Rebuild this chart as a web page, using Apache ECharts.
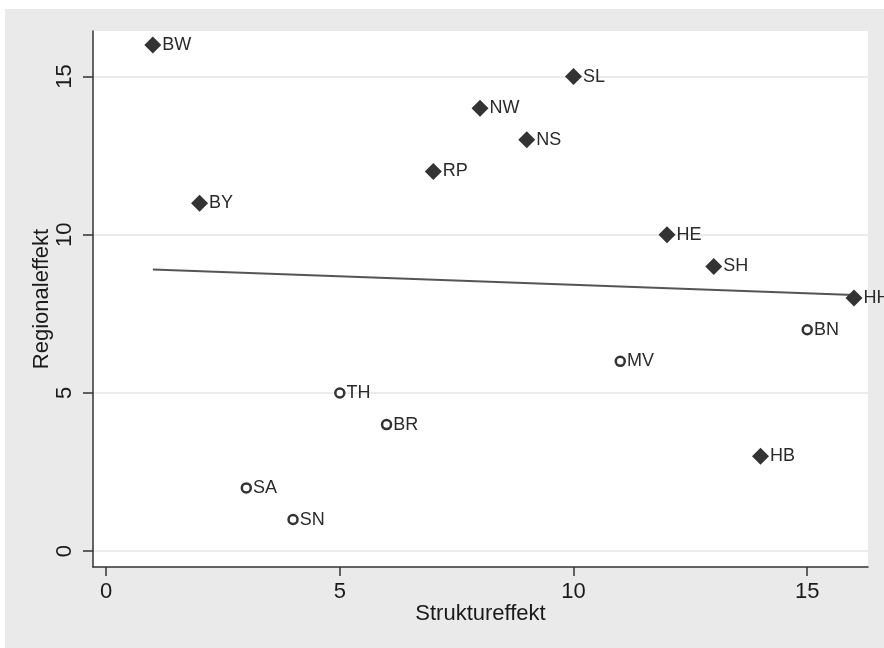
<!DOCTYPE html>
<html>
<head>
<meta charset="utf-8">
<script src="https://cdn.jsdelivr.net/npm/echarts@6/dist/echarts.min.js"></script>
<style>
  html, body { margin: 0; padding: 0; background: #fff; }
  #chart { position: absolute; left: 5px; top: 9px; width: 879px; height: 639px; background: #eaeaea; }
</style>
</head>
<body>
<div id="chart"></div>
<script>
// Westdeutsche Laender (Rauten)
var westNames = ['BW', 'SL', 'NW', 'NS', 'RP', 'BY', 'HE', 'SH', 'HH', 'HB'];
var westX = [1, 10, 8, 9, 7, 2, 12, 13, 16, 14];
var westY = [16, 15, 14, 13, 12, 11, 10, 9, 8, 3];

// Ostdeutsche Laender (Kreise)
var eastNames = ['BN', 'MV', 'TH', 'BR', 'SA', 'SN'];
var eastX = [15, 11, 5, 6, 3, 4];
var eastY = [7, 6, 5, 4, 2, 1];

// Regressionsgerade
var fitX = [1, 16];
var fitY = [8.9, 8.1];

var xTicks = [0, 5, 10, 15];
var yTicks = [0, 5, 10, 15];

function makePoints(names, xs, ys) {
  var out = [];
  for (var i = 0; i < names.length; i++) {
    out.push({ name: names[i], value: [xs[i], ys[i]] });
  }
  return out;
}

var fontFam = '"Liberation Sans", Arial, sans-serif';
var labelStyle = {
  show: true,
  position: 'right',
  distance: 1,
  formatter: '{b}',
  color: '#2a2a2a',
  fontSize: 18,
  fontFamily: fontFam
};

var chart = echarts.init(document.getElementById('chart'));

var option = {
  animation: false,
  textStyle: { fontFamily: fontFam },
  grid: {
    left: 88, top: 22, right: 16, bottom: 81,
    show: true, backgroundColor: '#fff', borderWidth: 0
  },
  xAxis: {
    type: 'value',
    min: -0.28, max: 16.3,
    name: 'Struktureffekt',
    nameLocation: 'middle',
    nameGap: 36,
    nameMoveOverlap: false,
    nameTextStyle: { color: '#1a1a1a', fontSize: 22 },
    axisLine: { show: true, onZero: false, lineStyle: { color: '#333', width: 1.5 } },
    axisTick: { show: true, length: 9, customValues: xTicks, lineStyle: { color: '#333', width: 1.5 } },
    axisLabel: { customValues: xTicks, color: '#1a1a1a', fontSize: 22, margin: 14 },
    splitLine: { show: false }
  },
  yAxis: {
    type: 'value',
    min: -0.5, max: 16.44,
    name: 'Regionaleffekt',
    nameLocation: 'middle',
    nameGap: 40,
    nameMoveOverlap: false,
    nameTextStyle: { color: '#1a1a1a', fontSize: 22 },
    axisLine: { show: true, onZero: false, lineStyle: { color: '#333', width: 1.5 } },
    axisTick: { show: true, length: 10, customValues: yTicks, lineStyle: { color: '#333', width: 1.5 } },
    axisLabel: { customValues: yTicks, color: '#1a1a1a', fontSize: 22, rotate: 90, margin: 17 },
    splitLine: { show: true, lineStyle: { color: '#e6e6e6', width: 1.5 } }
  },
  series: [
    {
      type: 'line',
      data: [[fitX[0], fitY[0]], [fitX[1], fitY[1]]],
      showSymbol: false,
      lineStyle: { color: '#555', width: 2 },
      z: 1
    },
    {
      type: 'scatter',
      symbol: 'diamond',
      symbolSize: 17,
      itemStyle: { color: '#333', opacity: 1 },
      label: labelStyle,
      data: makePoints(westNames, westX, westY),
      z: 3
    },
    {
      type: 'scatter',
      symbol: 'circle',
      symbolSize: 9,
      itemStyle: { color: '#fff', borderColor: '#333', borderWidth: 2.5, opacity: 1 },
      label: labelStyle,
      data: makePoints(eastNames, eastX, eastY),
      z: 3
    }
  ]
};

chart.setOption(option);
</script>
</body>
</html>
